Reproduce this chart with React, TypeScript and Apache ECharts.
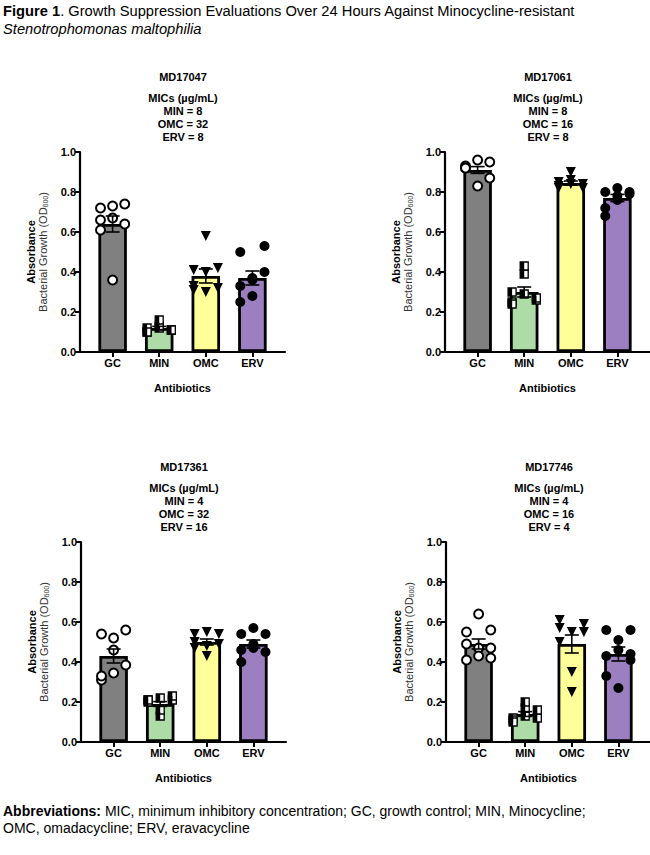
import React, { useEffect, useRef } from "react";
import * as echarts from "echarts";

// ---- data -----------------------------------------------------------------
const categories = ["GC", "MIN", "OMC", "ERV"];
const strains = ["MD17047", "MD17061", "MD17361", "MD17746"];
const micMIN = [8, 8, 4, 4];
const micOMC = [32, 16, 32, 16];
const micERV = [8, 8, 16, 4];

// MD17047 – replicate OD600 readings per arm
const md17047GC = [0.72, 0.73, 0.74, 0.66, 0.67, 0.64, 0.61, 0.36];
const md17047MIN = [0.1, 0.12, 0.11, 0.12, 0.13, 0.11, 0.1, 0.16];
const md17047OMC = [0.41, 0.4, 0.42, 0.33, 0.3, 0.32, 0.31, 0.58];
const md17047ERV = [0.5, 0.37, 0.53, 0.33, 0.36, 0.4, 0.25, 0.28];
const md17047Mean = [0.64, 0.12, 0.38, 0.37];
const md17047Sem = [0.04, 0.008, 0.035, 0.035];

// MD17061
const md17061GC = [0.93, 0.96, 0.95, 0.92, 0.83, 0.87, 0.92];
const md17061MIN = [0.3, 0.39, 0.26, 0.25, 0.29, 0.27, 0.24, 0.43];
const md17061OMC = [0.85, 0.86, 0.84, 0.83, 0.84, 0.82, 0.82, 0.9];
const md17061ERV = [0.8, 0.82, 0.79, 0.72, 0.78, 0.8, 0.68, 0.76];
const md17061Mean = [0.91, 0.3, 0.845, 0.77];
const md17061Sem = [0.017, 0.025, 0.01, 0.018];

// MD17361
const md17361GC = [0.54, 0.52, 0.56, 0.31, 0.46, 0.385, 0.33, 0.345];
const md17361MIN = [0.21, 0.22, 0.21, 0.2, 0.13, 0.23, 0.21, 0.16];
const md17361OMC = [0.54, 0.55, 0.54, 0.5, 0.43, 0.49, 0.47, 0.48];
const md17361ERV = [0.54, 0.57, 0.54, 0.46, 0.47, 0.45, 0.4, 0.49];
const md17361Mean = [0.43, 0.19, 0.5, 0.49];
const md17361Sem = [0.035, 0.012, 0.015, 0.02];

// MD17746
const md17746GC = [0.55, 0.64, 0.56, 0.49, 0.47, 0.47, 0.41, 0.43, 0.42];
const md17746MIN = [0.12, 0.13, 0.12, 0.11, 0.17, 0.16, 0.1, 0.2];
const md17746OMC = [0.61, 0.55, 0.59, 0.57, 0.35, 0.55, 0.5, 0.25];
const md17746ERV = [0.56, 0.51, 0.56, 0.43, 0.46, 0.41, 0.33, 0.27, 0.44];
const md17746Mean = [0.49, 0.14, 0.49, 0.44];
const md17746Sem = [0.025, 0.012, 0.045, 0.035];

const panels = [
  { points: [md17047GC, md17047MIN, md17047OMC, md17047ERV], mean: md17047Mean, sem: md17047Sem },
  { points: [md17061GC, md17061MIN, md17061OMC, md17061ERV], mean: md17061Mean, sem: md17061Sem },
  { points: [md17361GC, md17361MIN, md17361OMC, md17361ERV], mean: md17361Mean, sem: md17361Sem },
  { points: [md17746GC, md17746MIN, md17746OMC, md17746ERV], mean: md17746Mean, sem: md17746Sem },
];

// ---- layout & style ---------------------------------------------------------
const FONT = "'Liberation Sans', Arial, Helvetica, sans-serif";
const BAR_COLORS = ["#808080", "#aedca6", "#ffff99", "#9c7fc0"];
const GRID_W = 205;
const GRID_H = 200;
const PANEL_POS = [
  { left: 80, top: 152 },
  { left: 445, top: 152 },
  { left: 81, top: 542 },
  { left: 446, top: 542 },
];
// horizontal scatter of replicate dots inside each bar (category units)
const SPREAD = [-0.26, 0, 0.26, -0.26, 0, 0.26, -0.26, 0, 0.26];

function dots(catIndex: number, values: number[]) {
  return values.map((v, k) => [catIndex + SPREAD[k % SPREAD.length], v]);
}

function buildOption() {
  const grid: any[] = [];
  const xAxis: any[] = [];
  const yAxis: any[] = [];
  const series: any[] = [];
  const graphic: any[] = [];

  const axisLine = { show: true, onZero: false, lineStyle: { color: "#000", width: 2.2 } };
  const axisTick = { show: true, length: 5, lineStyle: { color: "#000", width: 2 } };
  const labelStyle = { color: "#000", fontFamily: FONT, fontSize: 11, fontWeight: "bold" };

  panels.forEach((panel, p) => {
    const pos = PANEL_POS[p];
    grid.push({
      left: pos.left,
      top: pos.top,
      width: GRID_W,
      height: GRID_H,
      containLabel: false,
      outerBoundsMode: "none",
    });
    xAxis.push({
      type: "value",
      gridIndex: p,
      min: -0.7,
      max: 3.7,
      axisLine,
      axisTick: { ...axisTick, customValues: [0, 1, 2, 3] },
      axisLabel: {
        ...labelStyle,
        margin: 5,
        customValues: [0, 1, 2, 3],
        formatter: (v: number) => categories[Math.round(v)] ?? "",
      },
      splitLine: { show: false },
      name: "Antibiotics",
      nameLocation: "middle",
      nameGap: 30,
      nameTextStyle: { ...labelStyle },
    });
    yAxis.push({
      type: "value",
      gridIndex: p,
      min: 0,
      max: 1,
      interval: 0.2,
      axisLine,
      axisTick,
      axisLabel: { ...labelStyle, margin: 4, formatter: (v: number) => v.toFixed(1) },
      splitLine: { show: false },
    });

    // bars (group means)
    series.push({
      type: "bar",
      xAxisIndex: p,
      yAxisIndex: p,
      barWidth: 28.5,
      itemStyle: { borderColor: "#000", borderWidth: 2.8 },
      data: panel.mean.map((m, i) => ({ value: [i, m], itemStyle: { color: BAR_COLORS[i] } })),
      z: 2,
    });

    // GC: open circles
    series.push({
      type: "scatter",
      xAxisIndex: p,
      yAxisIndex: p,
      symbol: "circle",
      symbolSize: 9,
      itemStyle: { color: "#fff", borderColor: "#000", borderWidth: 2, opacity: 1 },
      data: dots(0, panel.points[0]),
      z: 3,
    });
    // MIN: half-filled squares (white square + black half)
    series.push({
      type: "scatter",
      xAxisIndex: p,
      yAxisIndex: p,
      symbol: "rect",
      symbolSize: 8,
      itemStyle: { color: "#fff", borderColor: "#000", borderWidth: 1.3, opacity: 1 },
      data: dots(1, panel.points[1]),
      z: 3,
    });
    series.push({
      type: "scatter",
      xAxisIndex: p,
      yAxisIndex: p,
      symbol: "path://M0,0H1V2H0Z",
      symbolSize: [4, 8],
      symbolOffset: [-2, 0],
      itemStyle: { color: "#000", opacity: 1 },
      data: dots(1, panel.points[1]),
      z: 3,
    });
    // OMC: filled downward triangles
    series.push({
      type: "scatter",
      xAxisIndex: p,
      yAxisIndex: p,
      symbol: "triangle",
      symbolRotate: 180,
      symbolSize: 10,
      itemStyle: { color: "#000", opacity: 1 },
      data: dots(2, panel.points[2]),
      z: 3,
    });
    // ERV: filled circles
    series.push({
      type: "scatter",
      xAxisIndex: p,
      yAxisIndex: p,
      symbol: "circle",
      symbolSize: 10,
      itemStyle: { color: "#000", opacity: 1 },
      data: dots(3, panel.points[3]),
      z: 3,
    });

    // SEM error bars
    series.push({
      type: "custom",
      xAxisIndex: p,
      yAxisIndex: p,
      encode: { x: 0, y: [1, 2] },
      data: panel.mean.map((m, i) => [i, m - panel.sem[i], m + panel.sem[i]]),
      renderItem: (_params: any, api: any) => {
        const x = api.value(0);
        const hi = api.coord([x, api.value(2)]);
        const lo = api.coord([x, api.value(1)]);
        const w = 7;
        const style = { stroke: "#000", lineWidth: 1.6 };
        return {
          type: "group",
          children: [
            { type: "line", shape: { x1: hi[0], y1: hi[1], x2: lo[0], y2: lo[1] }, style },
            { type: "line", shape: { x1: hi[0] - w, y1: hi[1], x2: hi[0] + w, y2: hi[1] }, style },
            { type: "line", shape: { x1: lo[0] - w, y1: lo[1], x2: lo[0] + w, y2: lo[1] }, style },
          ],
        };
      },
      z: 4,
    });

    // panel headings
    const cx = pos.left + 103;
    const headStyle = { fill: "#000", font: `bold 11px ${FONT}`, align: "center", verticalAlign: "middle" };
    const heads = [
      { t: strains[p], dy: -75 },
      { t: "MICs (\u00b5g/mL)", dy: -54 },
      { t: `MIN = ${micMIN[p]}`, dy: -41 },
      { t: `OMC = ${micOMC[p]}`, dy: -28 },
      { t: `ERV = ${micERV[p]}`, dy: -15 },
    ];
    heads.forEach((h) => {
      graphic.push({ type: "text", x: cx, y: pos.top + h.dy, style: { ...headStyle, text: h.t } });
    });

    // y-axis title (two lines, rotated)
    graphic.push({
      type: "text",
      x: pos.left - 43,
      y: pos.top + GRID_H / 2,
      rotation: Math.PI / 2,
      style: {
        text: "{b|Absorbance}\n{n|Bacterial Growth (OD}{s|600}{n|)}",
        align: "center",
        verticalAlign: "middle",
        rich: {
          b: { fontFamily: FONT, fontSize: 11, fontWeight: "bold", fill: "#000", lineHeight: 12 },
          n: { fontFamily: FONT, fontSize: 11, fill: "#333", lineHeight: 12 },
          s: { fontFamily: FONT, fontSize: 7, fill: "#333", lineHeight: 12, verticalAlign: "bottom" },
        },
      },
    });
  });

  // figure caption
  graphic.push({
    type: "text",
    x: 3,
    y: 11,
    style: {
      text: "{b|Figure 1}{n|. Growth Suppression Evaluations Over 24 Hours Against Minocycline-resistant}",
      verticalAlign: "middle",
      rich: {
        b: { fontFamily: FONT, fontSize: 14.7, fontWeight: "bold", fill: "#000" },
        n: { fontFamily: FONT, fontSize: 14.7, fill: "#000" },
      },
    },
  });
  graphic.push({
    type: "text",
    x: 3,
    y: 29,
    style: {
      text: "Stenotrophomonas maltophilia",
      font: `italic 14.7px ${FONT}`,
      fill: "#000",
      verticalAlign: "middle",
    },
  });

  // abbreviations footnote
  graphic.push({
    type: "text",
    x: 3,
    y: 819,
    style: {
      text:
        "{b|Abbreviations:}{n| MIC, minimum inhibitory concentration; GC, growth control; MIN, Minocycline;}\n{n|OMC, omadacycline; ERV, eravacycline}",
      verticalAlign: "middle",
      rich: {
        b: { fontFamily: FONT, fontSize: 14, fontWeight: "bold", fill: "#000", lineHeight: 17 },
        n: { fontFamily: FONT, fontSize: 14, fill: "#000", lineHeight: 17 },
      },
    },
  });

  return {
    animation: false,
    backgroundColor: "#fff",
    grid,
    xAxis,
    yAxis,
    series,
    graphic,
  };
}

export default function App() {
  const ref = useRef<HTMLDivElement>(null);
  useEffect(() => {
    if (!ref.current) return;
    const chart = echarts.init(ref.current, undefined, { renderer: "svg" });
    chart.setOption(buildOption() as any);
    return () => chart.dispose();
  }, []);
  return (
    <div
      ref={ref}
      style={{ position: "absolute", left: 0, top: 0, width: 650, height: 855, background: "#fff" }}
    />
  );
}
